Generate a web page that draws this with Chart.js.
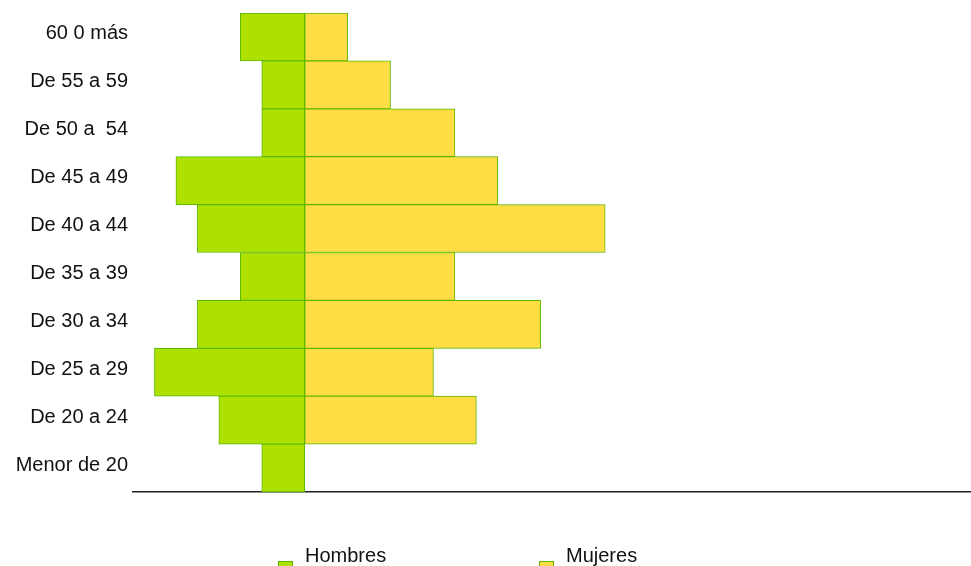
<!DOCTYPE html>
<html>
<head>
<meta charset="utf-8">
<script src="https://cdn.jsdelivr.net/npm/chart.js@4.4.0/dist/chart.umd.min.js"></script>
<style>
  html, body { margin: 0; padding: 0; background: #fff; }
  #wrap { position: relative; width: 971px; height: 566px; overflow: hidden; }
  #chart { position: absolute; left: 0; top: 0; }
  .leg { position: absolute; top: 544px; font: 20px 'Liberation Sans', Arial, sans-serif; color: #111; white-space: nowrap; }
  .leg i { position: absolute; left: -27px; top: 17px; width: 13px; height: 13px; border: 1px solid #5cb800; }
</style>
</head>
<body>
<div id="wrap">
  <canvas id="chart" width="971" height="566"></canvas>
  <div class="leg" style="left:305px"><i style="background:#aee000"></i>Hombres</div>
  <div class="leg" style="left:566px"><i style="background:#ffdd44"></i>Mujeres</div>
</div>
<script>
  // grupos de edad, de mayor a menor (arriba hacia abajo)
  var categorias = ['60 0 más', 'De 55 a 59', 'De 50 a  54', 'De 45 a 49', 'De 40 a 44',
                    'De 35 a 39', 'De 30 a 34', 'De 25 a 29', 'De 20 a 24', 'Menor de 20'];
  var hombres = [3, 2, 2, 6, 5, 3, 5, 7, 4, 2];
  var mujeres = [2, 4, 7, 9, 14, 7, 11, 6, 8, 0];

  var colores = {
    hombres: '#aee000',
    mujeres: '#ffdd44',
    borde:   '#5cb800',
    eje:     '#222222',
    texto:   '#111111'
  };

  new Chart(document.getElementById('chart'), {
    type: 'bar',
    data: {
      labels: categorias,
      datasets: [
        {
          label: 'Hombres',
          data: hombres.map(function (v) { return -v; }),
          backgroundColor: colores.hombres,
          borderColor: colores.borde,
          borderWidth: 1,
          borderSkipped: false
        },
        {
          label: 'Mujeres',
          data: mujeres,
          backgroundColor: colores.mujeres,
          borderColor: colores.borde,
          borderWidth: 1,
          borderSkipped: false
        }
      ]
    },
    options: {
      indexAxis: 'y',
      responsive: false,
      animation: false,
      layout: { padding: { top: 13, right: 1, bottom: 74, left: 0 } },
      datasets: { bar: { barPercentage: 1, categoryPercentage: 1 } },
      plugins: {
        legend: { display: false },
        tooltip: {
          callbacks: {
            label: function (item) { return item.dataset.label + ': ' + Math.abs(item.parsed.x); }
          }
        }
      },
      scales: {
        x: {
          stacked: true,
          min: -8,
          max: 31,
          grid: { display: false, drawTicks: false },
          ticks: { display: false },
          border: { display: true, color: colores.eje, width: 1.5 },
          afterFit: function (scale) { scale.height = 0; }
        },
        y: {
          stacked: true,
          grid: { display: false, drawTicks: false },
          border: { display: false },
          ticks: {
            color: colores.texto,
            padding: 5,
            labelOffset: -3,
            font: { family: "'Liberation Sans', Arial, sans-serif", size: 20 }
          },
          afterFit: function (scale) {
            scale.width = 133;
            scale.paddingTop = 0;
            scale.paddingBottom = 0;
          }
        }
      }
    }
  });
</script>
</body>
</html>
